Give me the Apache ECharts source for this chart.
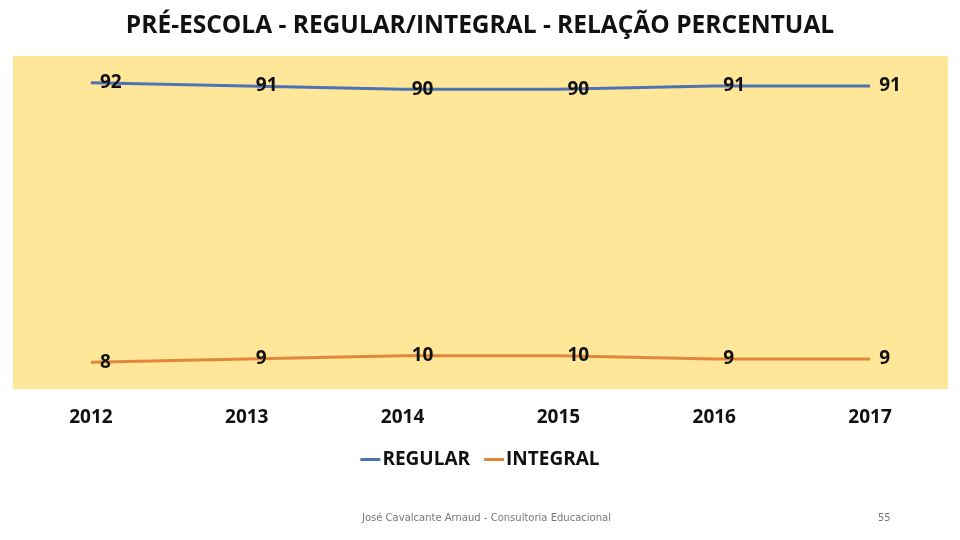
<!DOCTYPE html>
<html>
<head>
<meta charset="utf-8">
<script src="https://cdn.jsdelivr.net/npm/echarts@6/dist/echarts.min.js"></script>
<style>html,body{margin:0;padding:0;background:#fff;}#c{width:960px;height:540px;}</style>
</head>
<body>
<div id="c"></div>
<script>
var categories = ['2012', '2013', '2014', '2015', '2016', '2017'];
var regular = [92, 91, 90, 90, 91, 91];
var integral = [8, 9, 10, 10, 9, 9];
var seriesNames = ['REGULAR', 'INTEGRAL'];

var chart = echarts.init(document.getElementById('c'), null, {renderer: 'canvas'});
var FONT = '"Open Sans", "Noto Sans", sans-serif';
var labelStyle = {show: true, position: 'right', distance: 9, color: '#111', fontSize: 19, fontWeight: 'bold', fontFamily: FONT};
chart.setOption({
  backgroundColor: '#ffffff',
  title: [{
    text: 'PRÉ-ESCOLA - REGULAR/INTEGRAL - RELAÇÃO PERCENTUAL',
    left: 'center', top: 9,
    textStyle: {fontSize: 24.5, fontWeight: 'bold', color: '#111', fontFamily: FONT}
  }, {
    text: 'José Cavalcante Arnaud - Consultoria Educacional',
    left: 357, top: 508,
    textStyle: {fontSize: 10, fontWeight: 'normal', color: '#777', fontFamily: '"DejaVu Sans", sans-serif'}
  }, {
    text: '55',
    left: 873, top: 508,
    textStyle: {fontSize: 10, fontWeight: 'normal', color: '#777', fontFamily: '"DejaVu Sans", sans-serif'}
  }],
  legend: {
    data: seriesNames,
    top: 445, left: 'center',
    icon: 'rect', itemWidth: 20, itemHeight: 3, itemGap: 14,
    textStyle: {fontSize: 19, fontWeight: 'bold', color: '#111', fontFamily: FONT, padding: [0, 0, 0, -3]}
  },
  grid: {
    left: 13, right: 12, top: 56, bottom: 151,
    show: true, backgroundColor: '#FFE699', borderWidth: 0
  },
  xAxis: {
    type: 'category', data: categories, boundaryGap: true,
    axisLine: {show: false}, axisTick: {show: false}, splitLine: {show: false},
    axisLabel: {margin: 19, fontSize: 19, fontWeight: 'bold', color: '#111', fontFamily: FONT}
  },
  yAxis: {
    type: 'value', min: 0, max: 100, show: false, splitLine: {show: false}
  },
  series: [{
    name: seriesNames[0], type: 'line', data: regular,
    symbol: 'circle', symbolSize: 0.1, showSymbol: true,
    lineStyle: {width: 3, color: '#4E73B3'}, itemStyle: {color: '#4E73B3'},
    label: labelStyle
  }, {
    name: seriesNames[1], type: 'line', data: integral,
    symbol: 'circle', symbolSize: 0.1, showSymbol: true,
    lineStyle: {width: 3, color: '#E0873A'}, itemStyle: {color: '#E0873A'},
    label: labelStyle
  }]
});
</script>
</body>
</html>
